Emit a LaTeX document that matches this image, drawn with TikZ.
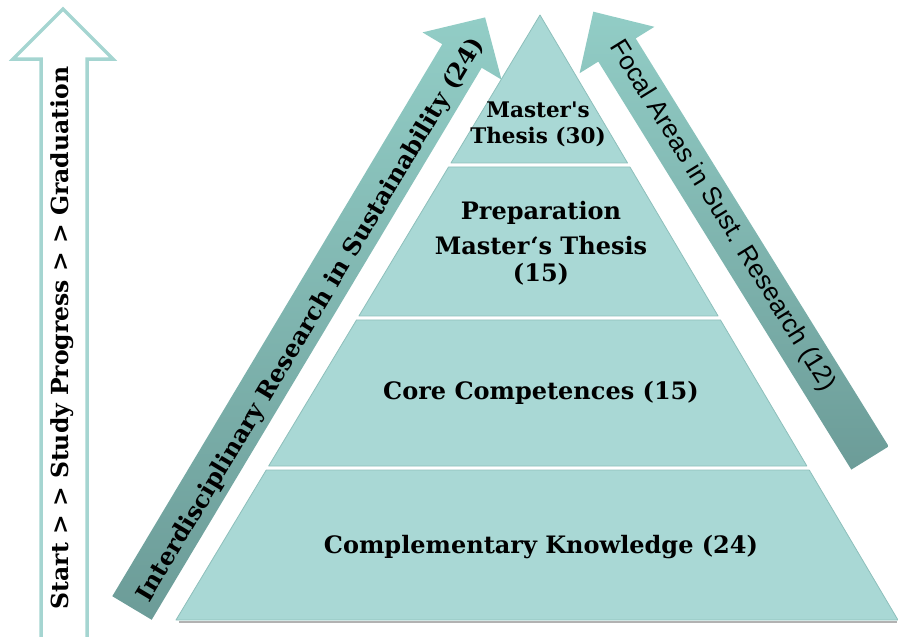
\documentclass[tikz,border=0pt]{standalone}
\usepackage{fontspec}
\setmainfont{DejaVu Serif}
\newfontfamily\arialfont{Liberation Sans}
\usetikzlibrary{calc}
\definecolor{pyrfill}{HTML}{A9D8D5}
\definecolor{pyredge}{HTML}{8DBFBB}
\definecolor{bandtop}{HTML}{92CDC6}
\definecolor{bandbot}{HTML}{6C9C98}
\definecolor{hollow}{HTML}{A5D5D1}

\begin{document}
\begin{tikzpicture}[x=1pt, y=-1pt,
    tier/.style={fill=pyrfill, draw=pyredge, line width=0.8pt, line join=round},
    band/.style={top color=bandtop, bottom color=bandbot},
    tiertext/.style={font=\bfseries\fontsize{24}{27}\selectfont, align=center},
    bandtext/.style={font=\bfseries\fontsize{23.5}{27}\selectfont}]
  \useasboundingbox (0,0) rectangle (898,637);
  \coordinate (apex) at (540,15);
  \coordinate (bl) at (176,620);
  \coordinate (br) at (898,620);

  % hollow arrow on the left
  \draw[hollow, line width=3.5pt, line join=miter]
    (41,640) -- (41,59) -- (13,59) -- (63,9) -- (113,59) -- (87,59) -- (87,640);
  \node[bandtext, rotate=90] (progress) at (62,338) {Start > > Study Progress > > Graduation};

  % pyramid
  \draw[black!30, line width=2pt] ($(bl)+(3,2)$) -- ($(br)+(-1,2)$);
  \path[tier] (apex) -- ($(apex)!0.2446!(br)$) -- ($(apex)!0.2446!(bl)$) -- cycle;
  \foreach \a/\b in {0.2512/0.4975, 0.5041/0.7455, 0.7521/1}
    \path[tier] ($(apex)!\a!(bl)$) -- ($(apex)!\a!(br)$) -- ($(apex)!\b!(br)$) -- ($(apex)!\b!(bl)$) -- cycle;

  % side arrows
  \path[band] (112.3,596.2) -- (442.3,44.2) -- (422.5,32.4) -- (485.1,17.4)
    -- (501.5,79.6) -- (481.7,67.8) -- (151.7,619.8) -- cycle;
  \path[band] (851.3,469.6) -- (598.3,61.6) -- (579.6,73.2) -- (593.3,11.7)
    -- (654.4,26.8) -- (635.7,38.4) -- (888.7,446.4) -- cycle;
  \node[bandtext, font=\bfseries\fontsize{24}{27}\selectfont, rotate=59.1] (inter) at (311,320) {Interdisciplinary Research in Sustainability (24)};
  \node[font=\arialfont\fontsize{26}{30}\selectfont, rotate=-58.2] (focal) at (722,216) {Focal Areas in Sust. Research (12)};

  % labels of the tiers
  \node[tiertext, font=\bfseries\fontsize{21.5}{26}\selectfont] (thesis) at (538,124) {Master\textquotesingle s\\Thesis (30)};
  \node[tiertext] (prep) at (541,243) {Preparation\\[8pt]Master‘s Thesis\\(15)};
  \node[tiertext] (core) at (541,393) {Core Competences (15)};
  \node[tiertext] (compl) at (541,547) {Complementary Knowledge (24)};
\end{tikzpicture}
\end{document}
